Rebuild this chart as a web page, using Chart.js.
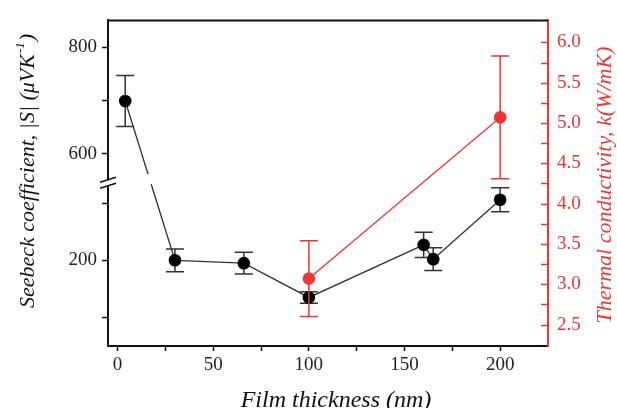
<!DOCTYPE html>
<html>
<head>
<meta charset="utf-8">
<script src="https://cdn.jsdelivr.net/npm/chart.js@4/dist/chart.umd.min.js"></script>
<style>
  html, body { margin: 0; padding: 0; background: #fff; }
</style>
</head>
<body>
<canvas id="chart" width="617" height="408"></canvas>
<script>
// Seebeck coefficient vs film thickness (left axis, broken)
const thickness = [4, 30, 66, 100, 160, 165, 200];
const seebeck = [699, 200, 195, 135, 227, 202, 306];
const seebeckErr = [48, 20, 19, 10, 22, 20, 21];

// Thermal conductivity (right axis)
const kThickness = [100, 200];
const conductivity = [3.07, 5.07];
const conductivityErr = [0.47, 0.76];

// Tick values and labels
const xTicks = [0, 25, 50, 75, 100, 125, 150, 175, 200];
const xLabels = [0, 50, 100, 150, 200];
const seebeckTicks = [100, 200, 300, 600, 700, 800];
const seebeckLabels = [200, 600, 800];
const kTicks = [2.5, 2.75, 3.0, 3.25, 3.5, 3.75, 4.0, 4.25, 4.5, 4.75, 5.0, 5.25, 5.5, 5.75, 6.0];
const kLabels = [2.5, 3.0, 3.5, 4.0, 4.5, 5.0, 5.5, 6.0];

// The left axis is broken: lower part and upper part each take half the height
const lowerRange = [50, 335];
const upperRange = [545, 850];

const BLACK = '#111';
const LINE_BLACK = '#333';
const RED = '#f03535';
const FONT = '"Liberation Serif", "Times New Roman", serif';

function toAxis(v) {
    if (v <= lowerRange[1]) return (v - lowerRange[0]) / (lowerRange[1] - lowerRange[0]);
    return 1 + (v - upperRange[0]) / (upperRange[1] - upperRange[0]);
}

function fromAxisTick(u) {
    return seebeckTicks.find(t => Math.abs(toAxis(t) - u) < 1e-6);
}

// Error bars drawn just before each dataset so markers sit on top
const errorBars = {
    id: 'errorBars',
    beforeDatasetDraw(chart, args) {
        const ds = chart.data.datasets[args.index];
        const meta = args.meta;
        const yScale = chart.scales[meta.yAxisID];
        const ctx = chart.ctx;
        ctx.save();
        ctx.strokeStyle = ds.errColor;
        ctx.lineWidth = 1.5;
        ds.errData.forEach((e, i) => {
            const pt = meta.data[i];
            const x = pt.x;
            const yTop = yScale.getPixelForValue(ds.toScale(ds.raw[i] + e));
            const yBot = yScale.getPixelForValue(ds.toScale(ds.raw[i] - e));
            ctx.beginPath();
            ctx.moveTo(x, yTop); ctx.lineTo(x, yBot);
            ctx.moveTo(x - 9, yTop); ctx.lineTo(x + 9, yTop);
            ctx.moveTo(x - 9, yBot); ctx.lineTo(x + 9, yBot);
            ctx.stroke();
        });
        ctx.restore();
    }
};

// Frame, axis break, inward right ticks and axis titles
const decorations = {
    id: 'decorations',
    afterDraw(chart) {
        const { ctx, chartArea } = chart;
        const y = chart.scales.y;
        const y2 = chart.scales.y2;
        ctx.save();

        // top frame line
        ctx.strokeStyle = BLACK;
        ctx.lineWidth = 2;
        ctx.beginPath();
        ctx.moveTo(chartArea.left - 1, chartArea.top);
        ctx.lineTo(chartArea.right, chartArea.top);
        ctx.stroke();

        // right axis ticks pointing inward
        ctx.strokeStyle = RED;
        ctx.lineWidth = 1.5;
        kTicks.forEach(v => {
            const py = Math.round(y2.getPixelForValue(v)) + 0.5;
            ctx.beginPath();
            ctx.moveTo(chartArea.right, py);
            ctx.lineTo(chartArea.right - 7, py);
            ctx.stroke();
        });

        // gap in the connecting line where it crosses the break
        const meta = chart.getDatasetMeta(1);
        const p0 = meta.data[0], p1 = meta.data[1];
        const yb = y.getPixelForValue(1);
        const gy0 = yb - 9, gy1 = yb + 1;
        const xAt = py => p0.x + (p1.x - p0.x) * (py - p0.y) / (p1.y - p0.y);
        ctx.strokeStyle = '#fff';
        ctx.lineWidth = 4;
        ctx.beginPath();
        ctx.moveTo(xAt(gy0), gy0);
        ctx.lineTo(xAt(gy1), gy1);
        ctx.stroke();

        // axis break marks
        const ax = chartArea.left;
        ctx.fillStyle = '#fff';
        ctx.fillRect(ax - 3, yb - 3, 6, 5);
        ctx.strokeStyle = BLACK;
        ctx.lineWidth = 1.5;
        ctx.beginPath();
        ctx.moveTo(ax - 8, yb - 1); ctx.lineTo(ax + 8, yb - 6);
        ctx.moveTo(ax - 8, yb + 5); ctx.lineTo(ax + 8, yb);
        ctx.stroke();

        // axis titles
        const titleFont = 'italic 22px ' + FONT;
        const supFont = 'italic 13px ' + FONT;
        ctx.textBaseline = 'middle';
        ctx.fillStyle = BLACK;

        // left title with superscript -1
        ctx.save();
        ctx.translate(28, 171);
        ctx.rotate(-Math.PI / 2);
        const partA = 'Seebeck coefficient, |S| (\u03BCVK';
        const partSup = '-1';
        const partB = ')';
        ctx.font = titleFont;
        const wA = ctx.measureText(partA).width;
        const wB = ctx.measureText(partB).width;
        ctx.font = supFont;
        const wS = ctx.measureText(partSup).width + 2;
        let tx = -(wA + wS + wB) / 2;
        ctx.textAlign = 'left';
        ctx.font = titleFont;
        ctx.fillText(partA, tx, 0);
        tx += wA;
        ctx.font = supFont;
        ctx.fillText(partSup, tx + 1, -7);
        tx += wS;
        ctx.font = titleFont;
        ctx.fillText(partB, tx, 0);
        ctx.restore();

        ctx.textAlign = 'center';
        ctx.font = titleFont;
        ctx.save();
        ctx.fillStyle = RED;
        ctx.translate(605, 185);
        ctx.rotate(-Math.PI / 2);
        ctx.fillText('Thermal conductivity, k(W/mK)', 0, 0);
        ctx.restore();

        ctx.font = 'italic 24px ' + FONT;
        ctx.fillText('Film thickness (nm)', 336, 401);
        ctx.restore();
    }
};

const ctx = document.getElementById('chart').getContext('2d');
new Chart(ctx, {
    type: 'line',
    data: {
        datasets: [
            {
                label: 'Thermal conductivity',
                data: kThickness.map((x, i) => ({ x, y: conductivity[i] })),
                raw: conductivity,
                errData: conductivityErr,
                toScale: v => v,
                errColor: RED,
                yAxisID: 'y2',
                borderColor: RED,
                backgroundColor: RED,
                borderWidth: 1.3,
                pointRadius: 6.3,
                pointBorderWidth: 0,
                tension: 0,
                order: 0
            },
            {
                label: 'Seebeck coefficient',
                data: thickness.map((x, i) => ({ x, y: toAxis(seebeck[i]) })),
                raw: seebeck,
                errData: seebeckErr,
                toScale: toAxis,
                errColor: LINE_BLACK,
                yAxisID: 'y',
                borderColor: LINE_BLACK,
                backgroundColor: '#000',
                borderWidth: 1.3,
                pointRadius: 6.3,
                pointBorderWidth: 0,
                tension: 0,
                order: 1
            }
        ]
    },
    options: {
        responsive: false,
        animation: false,
        devicePixelRatio: 1,
        layout: { padding: { top: 16, left: 0, right: 0, bottom: 0 } },
        plugins: { legend: { display: false }, tooltip: { enabled: false } },
        scales: {
            x: {
                type: 'linear',
                min: -5,
                max: 225,
                afterFit: s => { s.height = 62; },
                afterBuildTicks: s => { s.ticks = xTicks.map(v => ({ value: v })); },
                border: { color: BLACK, width: 2 },
                grid: { drawOnChartArea: false, tickLength: 5, tickColor: BLACK, tickWidth: 1.5 },
                ticks: {
                    autoSkip: false, maxRotation: 0, padding: 3, color: '#222',
                    font: { family: FONT, size: 19 },
                    callback: v => xLabels.includes(v) ? String(v) : ''
                }
            },
            y: {
                type: 'linear',
                position: 'left',
                min: 0,
                max: 2,
                afterFit: s => { s.width = 108; },
                afterBuildTicks: s => { s.ticks = seebeckTicks.map(v => ({ value: toAxis(v) })); },
                border: { color: BLACK, width: 2 },
                grid: { drawOnChartArea: false, tickLength: 6, tickColor: BLACK, tickWidth: 1.5 },
                ticks: {
                    autoSkip: false, padding: 5, color: '#222',
                    font: { family: FONT, size: 19 },
                    callback: u => {
                        const v = fromAxisTick(u);
                        return seebeckLabels.includes(v) ? String(v) : '';
                    }
                }
            },
            y2: {
                type: 'linear',
                position: 'right',
                min: 2.234,
                max: 6.273,
                afterFit: s => { s.width = 69; },
                afterBuildTicks: s => { s.ticks = kTicks.map(v => ({ value: v })); },
                border: { color: RED, width: 2 },
                grid: { drawOnChartArea: false, drawTicks: false, tickLength: 0 },
                ticks: {
                    autoSkip: false, padding: 9, color: RED,
                    font: { family: FONT, size: 19 },
                    callback: v => kLabels.includes(v) ? v.toFixed(1) : ''
                }
            }
        }
    },
    plugins: [errorBars, decorations]
});
</script>
</body>
</html>
